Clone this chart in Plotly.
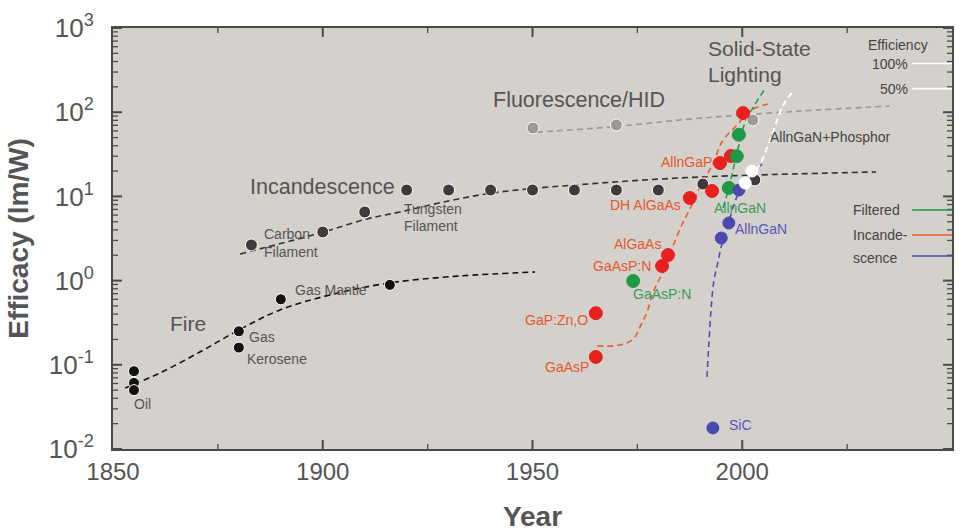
import numpy as np
import plotly.graph_objects as go

# ---------------- data ----------------
fire_years = [1855, 1855, 1855, 1880, 1880, 1890, 1916]
fire_vals = [0.084, 0.061, 0.050, 0.25, 0.16, 0.60, 0.89]
fire_curve_years = [1852.9, 1861.2, 1870.7, 1880.0, 1889.8, 1901.7, 1916.0, 1932.7, 1950.6]
fire_curve_vals = [0.053, 0.080, 0.142, 0.259, 0.448, 0.675, 0.94, 1.135, 1.265]

inc_years = [1883, 1900, 1910, 1920, 1930, 1940, 1950, 1960, 1970, 1980, 1990.6, 2003]
inc_vals = [2.65, 3.78, 6.53, 11.9, 11.9, 11.9, 11.9, 11.9, 11.9, 11.9, 14.0, 15.7]
inc_curve_years = [1880.3, 1885.8, 1899.3, 1910.5, 1918.4, 1931.0, 1942.3, 1966.1, 1990.0, 2031.9]
inc_curve_vals = [2.07, 2.44, 3.67, 5.39, 6.53, 9.06, 11.3, 14.4, 17.0, 19.5]

flu_years = [1950.1, 1970, 2002.5]
flu_vals = [64.9, 70.5, 80.7]
flu_curve_years = [1951.0, 1968.5, 1990.0, 2013.8, 2035.2]
flu_curve_vals = [58, 66.7, 85, 103, 118.6]

red_years = [1965.1, 1965.1, 1980.9, 1982.3, 1987.5, 1992.8, 1994.7, 1997.3, 2000.2]
red_vals = [0.124, 0.41, 1.49, 2.01, 9.57, 11.6, 24.9, 30.2, 97.7]
red_curve_years = [1965.4, 1970.9, 1974.0, 1975.6, 1977.3, 1978.7, 1979.9, 1981.6, 1983.2,
                   1985.6, 1988.0, 1990.3, 1993.0, 1995.3, 1999.2, 2001.6, 2006.1]
red_curve_vals = [0.167, 0.172, 0.202, 0.281, 0.424, 0.713, 0.962, 1.41, 2.37,
                  4.57, 7.90, 14.0, 24.3, 45.5, 74.5, 103, 125]

green_years = [1974.0, 1996.8, 1998.7, 1999.2]
green_vals = [0.99, 12.6, 30.0, 54.0]
green_curve_years = [1995.4, 1996.8, 1997.8, 1998.7, 1999.5, 2000.7, 2002.8, 2005.7]
green_curve_vals = [7.28, 12.6, 20.6, 31.9, 46.8, 76.6, 118.6, 199]

blue_years = [1993.0, 1995.0, 1996.8, 1999.2]
blue_vals = [0.0178, 3.2, 4.83, 11.9]
blue_curve_years = [1991.6, 1992.0, 1992.5, 1993.2, 1994.2, 1995.1, 1996.4, 1998.0, 1999.5, 2001.8, 2004.7]
blue_curve_vals = [0.0716, 0.163, 0.412, 0.962, 1.66, 2.65, 4.22, 7.9, 11.9, 16.6, 24.3]

white_years = [2000.7, 2002.3]
white_vals = [14.4, 20.0]
white_curve_years = [2000.4, 2002.3, 2004.2, 2005.7, 2007.1, 2008.5, 2009.9, 2011.8]
white_curve_vals = [13.3, 17.5, 23.6, 35.6, 53.6, 85.3, 125, 169]

x_tick_vals = [1850, 1900, 1950, 2000, 2050]
x_minor_vals = [1875, 1925, 1975, 2025]
y_tick_vals = [0.01, 0.1, 1, 10, 100, 1000]
y_tick_text = ["10<sup>-2</sup>", "10<sup>-1</sup>", "10<sup>0</sup>",
               "10<sup>1</sup>", "10<sup>2</sup>", "10<sup>3</sup>"]
y_minor_digits = [2, 3, 4, 5, 6, 7, 8, 9]

# ---------------- styles ----------------
FONT = "Liberation Sans, Arial, sans-serif"
GRAY_TXT = "#555555"
RED = "#e8201e"
ORANGE = "#e5592b"
GREEN = "#1e9a45"
GREEN_TXT = "#3a9d5a"
BLUE = "#4a4aae"
BLUE_TXT = "#5656bb"
DARK = "#3c3c3c"
AX = "#4a4a4a"

W, H = 963, 532
ML, MR, MT, MB = 113, 11, 28, 83
X_RANGE = [1850, 2050]
Y_RANGE = [-2, 3]
YEARS_PER_PX = (X_RANGE[1] - X_RANGE[0]) / (W - ML - MR)
DEC_PER_PX = (Y_RANGE[1] - Y_RANGE[0]) / (H - MT - MB)

fig = go.Figure()


def curve(xs, ys, color, width=1.6):
    fig.add_trace(go.Scatter(x=xs, y=ys, mode="lines", line_shape="spline",
                             line=dict(color=color, width=width, dash="6px,4px"),
                             hoverinfo="skip", showlegend=False))


def pts(xs, ys, color, size=12, edge="white"):
    fig.add_trace(go.Scatter(x=xs, y=ys, mode="markers",
                             marker=dict(color=color, size=size,
                                         line=dict(color=edge, width=1)),
                             showlegend=False))


# ---------------- inside ticks (drawn as line traces) ----------------
def tick_trace(yvals, xvals, length_px, width):
    xs, ys = [], []
    dx = length_px * YEARS_PER_PX
    fy = 10 ** (length_px * DEC_PER_PX)
    ylo, yhi = 10 ** Y_RANGE[0], 10 ** Y_RANGE[1]
    for v in yvals:
        xs += [X_RANGE[0], X_RANGE[0] + dx, None, X_RANGE[1] - dx, X_RANGE[1], None]
        ys += [v, v, None, v, v, None]
    for t in xvals:
        xs += [t, t, None, t, t, None]
        ys += [ylo, ylo * fy, None, yhi / fy, yhi, None]
    fig.add_trace(go.Scatter(x=xs, y=ys, mode="lines", line=dict(color=AX, width=width),
                             hoverinfo="skip", showlegend=False))


y_minor_vals = [v * d for v in y_tick_vals[:-1] for d in y_minor_digits]
tick_trace(y_tick_vals, x_tick_vals[1:-1], 9, 2)
tick_trace(y_minor_vals, x_minor_vals, 5, 1.3)

curve(fire_curve_years, fire_curve_vals, "#111111")
curve(inc_curve_years, inc_curve_vals, "#333333")
curve(flu_curve_years, flu_curve_vals, "#9a9a9a")
curve(red_curve_years, red_curve_vals, "#e8602c")
curve(green_curve_years, green_curve_vals, "#2a9d4c")
curve(blue_curve_years, blue_curve_vals, "#5050b5")
curve(white_curve_years, white_curve_vals, "#ffffff", 2)

pts(fire_years, fire_vals, "#111111", 11)
pts(inc_years, inc_vals, DARK, 12)
pts(flu_years, flu_vals, "#9a9a9a", 12)
pts(red_years, red_vals, RED, 13, RED)
pts(green_years, green_vals, GREEN, 13, GREEN)
pts(blue_years, blue_vals, BLUE, 12, BLUE)
pts(white_years, white_vals, "#ffffff", 12)

# ---------------- labels ----------------
labels = [
    # text, year, log10 value, anchor, size, color
    ("Solid-State", 1991.4, 2.751, "left", 21, GRAY_TXT),
    ("Lighting", 1991.4, 2.442, "left", 21, GRAY_TXT),
    ("Fluorescence/HID", 1940.1, 2.145, "left", 21.5, GRAY_TXT),
    ("Incandescence", 1882.2, 1.112, "left", 21.5, GRAY_TXT),
    ("Fire", 1863.1, -0.515, "left", 21, GRAY_TXT),
    ("Carbon", 1885.5, 0.553, "left", 14, GRAY_TXT),
    ("Filament", 1885.5, 0.340, "left", 14, GRAY_TXT),
    ("Tungsten", 1918.9, 0.850, "left", 14, GRAY_TXT),
    ("Filament", 1918.9, 0.648, "left", 14, GRAY_TXT),
    ("Gas Mantle", 1892.9, -0.112, "left", 14, GRAY_TXT),
    ("Gas", 1881.9, -0.670, "left", 14, GRAY_TXT),
    ("Kerosene", 1881.5, -0.931, "left", 14, GRAY_TXT),
    ("Oil", 1854.5, -1.466, "left", 14, GRAY_TXT),
    ("AllnGaP", 1993.2, 1.409, "right", 14, ORANGE),
    ("DH AlGaAs", 1985.9, 0.898, "right", 14, ORANGE),
    ("AlGaAs", 1981.1, 0.435, "right", 14, ORANGE),
    ("GaAsP:N", 1978.7, 0.173, "right", 14, ORANGE),
    ("GaP:Zn,O", 1963.7, -0.468, "right", 14, ORANGE),
    ("GaAsP", 1963.9, -1.026, "right", 14, ORANGE),
    ("GaAsP:N", 1973.5, -0.159, "left", 14, GREEN_TXT),
    ("AllnGaN", 1992.8, 0.862, "left", 14, GREEN_TXT),
    ("AllnGaN", 1997.8, 0.613, "left", 14, BLUE_TXT),
    ("SiC", 1996.4, -1.715, "left", 14, BLUE_TXT),
    ("AllnGaN+Phosphor", 2006.1, 1.705, "left", 14, "#444444"),
    ("Efficiency", 2029.5, 2.798, "left", 14, "#444444"),
    ("100%", 2040.0, 2.572, "right", 14, "#444444"),
    ("50%", 2040.0, 2.270, "right", 14, "#444444"),
    ("Filtered", 2026.0, 0.838, "left", 14, "#444444"),
    ("Incande-", 2026.0, 0.542, "left", 14, "#444444"),
    ("scence", 2026.0, 0.268, "left", 14, "#444444"),
]
for text, xx, yy, anchor, size, color in labels:
    fig.add_annotation(x=xx, y=yy, xref="x", yref="y", text=text, showarrow=False,
                       xanchor=anchor, yanchor="middle",
                       font=dict(family=FONT, size=size, color=color))

# legend swatch lines at right edge
swatches = [(2.578, "#ffffff"), (2.28, "#ffffff"), (0.838, GREEN), (0.542, "#e8602c"), (0.292, BLUE)]
for yy, color in swatches:
    fig.add_shape(type="line", xref="x", yref="y", x0=2040.5, x1=2050,
                  y0=10 ** yy, y1=10 ** yy, line=dict(color=color, width=1.6))

fig.update_xaxes(range=X_RANGE, tickmode="array", tickvals=x_tick_vals, ticks="",
                 showline=True, linecolor=AX, linewidth=2, mirror=True,
                 showgrid=False, zeroline=False,
                 tickfont=dict(family=FONT, size=24, color=GRAY_TXT),
                 title=dict(text="<b>Year</b>", font=dict(family=FONT, size=28, color=GRAY_TXT),
                            standoff=24))
fig.update_yaxes(type="log", range=Y_RANGE, tickmode="array", tickvals=y_tick_vals,
                 ticktext=y_tick_text, ticks="",
                 showline=True, linecolor=AX, linewidth=2, mirror=True,
                 showgrid=False, zeroline=False,
                 tickfont=dict(family=FONT, size=26, color=GRAY_TXT),
                 ticklabelstandoff=12,
                 title=dict(text="<b>Efficacy (lm/W)</b>",
                            font=dict(family=FONT, size=28, color=GRAY_TXT), standoff=12))

fig.update_layout(width=W, height=H, margin=dict(l=ML, r=MR, t=MT, b=MB, autoexpand=False),
                  plot_bgcolor="#d4d0cc", paper_bgcolor="#ffffff",
                  font=dict(family=FONT), showlegend=False)

fig.write_html("out.html")
